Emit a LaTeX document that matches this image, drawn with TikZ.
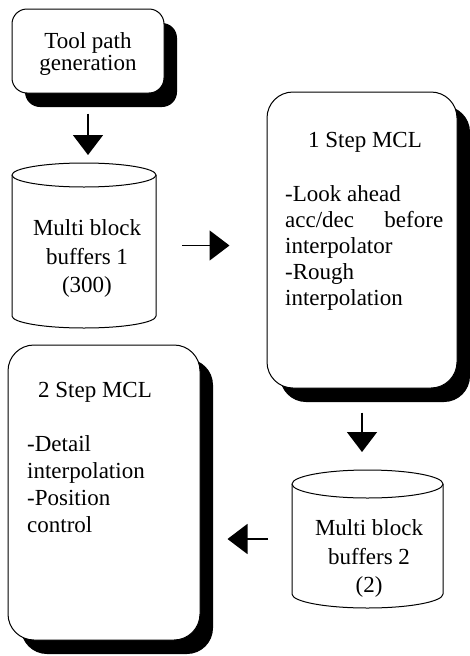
\documentclass[tikz,border=0pt]{standalone}
\usepackage{fontspec}
\setmainfont{Liberation Serif}
\usetikzlibrary{arrows.meta,shadows}
\newcommand{\drawcyl}[3]{%
  \draw[cylline] ([yshift=-#3]#1.north west) -- ([yshift=#3]#1.south west)
     arc[start angle=180,end angle=360,x radius=#2,y radius=#3]
     -- ([yshift=-#3]#1.north east)
     arc[start angle=0,end angle=180,x radius=#2,y radius=#3] -- cycle;
  \draw[cylline] ([yshift=-#3]#1.north west)
     arc[start angle=180,end angle=360,x radius=#2,y radius=#3];}
\begin{document}
\begin{tikzpicture}[x=1pt,y=-1pt,
  box/.style={draw=black, line width=1pt, fill=white, rounded corners=#1,
    inner sep=0pt,
    drop shadow={shadow xshift=13pt, shadow yshift=-14pt, opacity=1, fill=black}},
  cylnode/.style={inner sep=0pt, outer sep=0pt},
  cylline/.style={draw=black, line width=1pt, fill=white},
  txt/.style={inner sep=0pt, font=\fontsize{23}{#1}\selectfont},
  conn/.style={line width=1.6pt, -{Triangle[length=20pt,width=30pt]}}]
\useasboundingbox (0,0) rectangle (470,656);

% boxes
\node[box=15pt, minimum width=152pt, minimum height=84pt] (tool) at (88,51) {};
\node[box=26pt, minimum width=190pt, minimum height=296pt] (mcl1) at (362,240) {};
\node[box=26pt, minimum width=192pt, minimum height=295pt] (mcl2) at (104,492.5) {};

% cylinders
\node[cylnode, minimum width=144pt, minimum height=165pt] (buf1) at (84,245.5) {};
\drawcyl{buf1}{72pt}{12pt}
\node[cylnode, minimum width=151pt, minimum height=138pt] (buf2) at (367.5,539) {};
\drawcyl{buf2}{75.5pt}{14pt}

% texts
\node[txt=22pt, align=center] (tooltxt) at (88,54) {Tool path\\generation};
\node[txt=28.5pt, align=center] (buf1txt) at (87,258.5) {Multi block\\buffers 1\\(300)};
\node[txt=28.5pt, align=center] (buf2txt) at (369,558.5) {Multi block\\buffers 2\\(2)};
\node[txt=26pt] (mcl1title) at (365,142) {1 Step MCL};
\node[txt=26pt, align=left, anchor=north west] (mcl1txt) at (285,185)
  {-Look ahead\\\makebox[158pt][s]{acc/dec before}\\interpolator\\-Rough\\interpolation};
\node[txt=26pt] (mcl2title) at (95,392) {2 Step MCL};
\node[txt=27pt, align=left, anchor=north west] (mcl2txt) at (27,435.5)
  {-Detail\\interpolation\\-Position\\control};

% connectors
\draw[conn, shorten <=20pt, shorten >=8pt] (tool.south) -- (tool.south |- buf1.north);
\draw[conn, shorten <=26pt, shorten >=37pt] (buf1.east) -- (buf1.east -| mcl1.west);
\draw[conn, shorten <=24pt, shorten >=18pt] (mcl1.south) -- (mcl1.south |- buf2.north);
\draw[conn, shorten <=24pt, shorten >=27pt] (buf2.west) -- (buf2.west -| mcl2.east);
\end{tikzpicture}
\end{document}
